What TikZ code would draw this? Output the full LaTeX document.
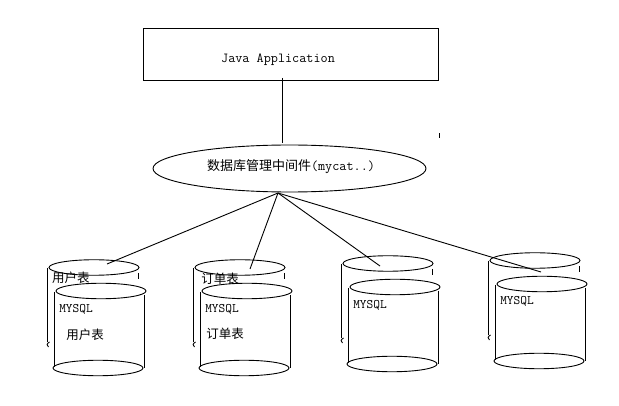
\documentclass[tikz,border=0pt]{standalone}
\usepackage{fontspec}
\usepackage{xcolor}
\usepackage{tikz}
\usetikzlibrary{shapes.geometric}
\newfontfamily\cjk{Noto Sans CJK SC}
\tikzset{
  lineblack/.style={line width=0.9pt, black},
  dbtop/.style={draw, lineblack, ellipse, inner sep=0pt, minimum width=90pt, minimum height=15.5pt},
  dblabel/.style={inner sep=0pt, font=\fontsize{12.5}{14}\selectfont\cjk},
  mysqllabel/.style={inner sep=0pt, font=\fontsize{13}{14}\selectfont\ttfamily}
}

\begin{document}
\begin{tikzpicture}[x=1pt, y=-1pt]
    \useasboundingbox (0,0) rectangle (619,406);

    \node[draw, lineblack, minimum width=295pt, minimum height=52pt, inner sep=0pt] (app) at (290.5,54) {};
    \node[inner sep=0pt, font=\fontsize{13.8}{14}\selectfont\ttfamily] (applabel) at (278,60) {Java Application};
    \node[draw, lineblack, ellipse, inner sep=0pt, minimum width=273pt, minimum height=47pt] (mid) at (289.5,168.5) {};
    \node[inner sep=0pt, font=\fontsize{13.8}{14}\selectfont\ttfamily] (midlabel) at (291,166.5)
      {{\fontsize{13}{14}\selectfont\cjk 数据库管理中间件}(mycat..)};
    \node[fill=black, inner sep=0pt, minimum width=1pt, minimum height=5pt] (tick) at (439,135.5) {};

    \coordinate (appout) at (282,78);
    \coordinate (midin) at (282,143);
    \coordinate (hub) at (278,193);
    \draw[lineblack] (appout) -- (midin);

    \foreach \n/\dx/\dy in {a/0/0, b/146/0, c/294/-4, d/441/-7}{
      \begin{scope}[shift={(\dx,\dy)}]
        \node[dbtop] (\n back) at (94,267.5) {};
        \node[dbtop] (\n front) at (101,291) {};
        \node[dbtop] (\n bottom) at (98,368) {};
        \draw[lineblack] (47,268) -- (47,342);
        \draw[lineblack] (49.5,342) .. controls (46.5,343.5) and (46.5,346) .. (48.5,347);
        \draw[lineblack] (138,273) -- (138,279);
        \draw[lineblack] (54,292) -- (54,367);
        \draw[lineblack] (144.5,295) -- (144.5,368);
      \end{scope}
    }

    \coordinate (ain) at (107,264);
    \coordinate (bin) at (250,269);
    \coordinate (cin) at (380,266);
    \coordinate (din) at (541,272);
    \foreach \n in {ain, bin, cin, din}{
      \draw[lineblack] (hub) -- (\n);
    }

    \node[dblabel] (auser) at (71,278) {用户表};
    \node[mysqllabel] (amysql) at (76,309.5) {MYSQL};
    \node[dblabel] (atable) at (85,335) {用户表};
    \node[dblabel] (border) at (220,279) {订单表};
    \node[mysqllabel] (bmysql) at (222,309.5) {MYSQL};
    \node[dblabel] (btable) at (225,334) {订单表};
    \node[mysqllabel] (cmysql) at (370,305.5) {MYSQL};
    \node[mysqllabel] (dmysql) at (517,301.5) {MYSQL};
  \end{tikzpicture}
\end{document}
